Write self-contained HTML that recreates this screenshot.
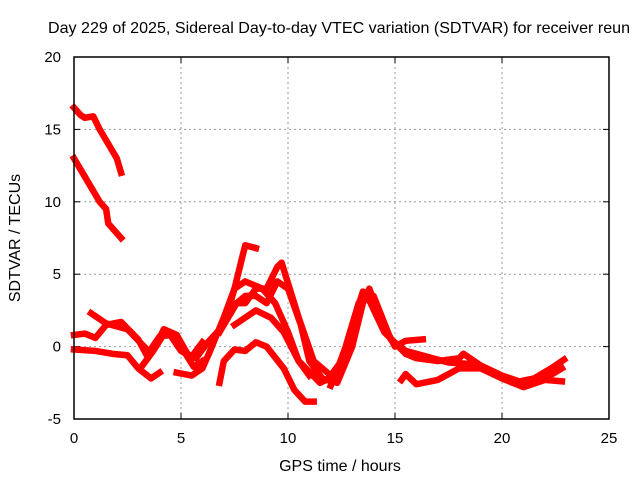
<!DOCTYPE html>
<html><head><meta charset="utf-8"><style>body{margin:0;background:#fff}svg{display:block;font-family:"Liberation Sans",sans-serif}</style></head>
<body>
<svg id="chart" width="640" height="480">
<rect width="640" height="480" fill="#fff"/>
<text x="339" y="33" font-size="16" text-anchor="middle" textLength="582" lengthAdjust="spacingAndGlyphs">Day 229 of 2025, Sidereal Day-to-day VTEC variation (SDTVAR) for receiver reun</text>
<g id="grid"></g><g id="ticks"></g><g id="series" fill="none" stroke="#ff0000" stroke-width="6.5" stroke-linejoin="round" stroke-linecap="square"></g>
<rect x="74" y="57" width="535" height="362" fill="none" stroke="#000" stroke-width="1.5"/>
<text x="340" y="471" font-size="16" text-anchor="middle">GPS time / hours</text>
<text transform="translate(20,238) rotate(-90)" font-size="16" text-anchor="middle">SDTVAR / TECUs</text>
</svg>
<script>
const xTicks=[0,5,10,15,20,25];
const yTicks=[-5,0,5,10,15,20];
const tracks=[
[[0,16.5],[0.3,16],[0.5,15.8],[0.9,15.9],[1.2,15],[1.6,14],[2.0,13],[2.2,12]],
[[0,13],[0.4,12],[0.8,11],[1.2,10],[1.5,9.5],[1.6,8.5],[2.2,7.5]],
[[0,0.8],[0.5,0.9],[1.0,0.6],[1.5,1.5],[2.2,1.7],[3.0,0.5],[3.4,-0.6],[4.0,0.7],[4.5,0.8],[5.0,-0.3],[5.5,-0.7],[6.0,0.3]],
[[0.8,2.3],[1.5,1.6],[2.5,1.2],[3.6,-0.5],[4,0.6],[4.2,1.2],[4.8,0.8],[5.3,-0.5],[5.7,-0.8],[6.2,0.2],[7,1.5],[7.5,4],[8,7],[8.5,6.8]],
[[0,-0.2],[1,-0.3],[1.8,-0.5],[2.5,-0.6],[3,-1.5],[3.6,-2.2],[4,-1.8]],
[[3.2,-1.3],[3.7,-0.3],[4.3,1.1],[5,0],[5.6,-1.4],[6,-1.0]],
[[4.8,-1.8],[5.5,-2],[6,-1.5],[6.3,-0.5],[7,2],[7.5,4],[8,4.5],[8.8,4],[9.4,3],[10,1],[10.5,-1],[11,-2]],
[[6.8,-2.5],[7,-1],[7.5,-0.2],[8,-0.3],[8.5,0.3],[9,0],[9.8,-1.5],[10.3,-3],[10.8,-3.8],[11.2,-3.8]],
[[6.8,1],[7.2,2],[7.6,3],[8,3],[8.5,4],[9,4],[9.5,5.5],[9.7,5.8],[10.5,2],[11.2,-1],[12,-2],[12.5,-1]],
[[7.2,2.5],[8,3.5],[8.5,3.5],[9,3],[9.5,4.5],[10,4],[10.6,1.5],[11,-1],[11.6,-2.2],[12.3,-2.5],[13,0],[13.5,3],[13.8,4],[14.3,2],[15,0],[15.5,0.4],[16.3,0.5]],
[[7.5,1.5],[8.5,2.5],[9.2,2],[9.8,1],[10.5,-1],[11.5,-2.5],[12.2,-2],[12.7,0],[13.3,3],[13.7,3.5],[14.5,1],[15.5,-0.5],[16,-0.8],[17,-1],[18,-0.8],[18.2,-0.5],[19,-1.3],[20,-2],[21,-2.5],[22,-2.2],[22.8,-1.5]],
[[15.3,-2.3],[15.5,-1.9],[16,-2.6],[17,-2.3],[18,-1.5],[19,-1.5],[20,-2.2],[21,-2.8],[22,-2.3],[22.8,-2.4]],
[[12,-2.7],[12.5,-1],[13,1.5],[13.5,3.8],[14,3.5],[14.8,0.5],[15.5,-0.3],[16.5,-0.7],[17.5,-1.1],[18.5,-1.2],[19.5,-1.8],[20.5,-2.5],[21.5,-2.2],[22.3,-1.5],[22.9,-0.9]]
];
const X=h=>74+h*(535/25), Y=v=>419-(v+5)*(362/25);
const NS="http://www.w3.org/2000/svg";
const grid=document.getElementById('grid'),ticks=document.getElementById('ticks'),ser=document.getElementById('series');
function mk(tag,at,par){const e=document.createElementNS(NS,tag);for(const k in at)e.setAttribute(k,at[k]);par.appendChild(e);return e;}
xTicks.forEach(t=>{const x=X(t);
 if(t>0&&t<25){const g=mk('line',{x1:x,x2:x,y1:57,y2:419,stroke:'#999','stroke-dasharray':'2,3'},grid);}
 mk('line',{x1:x,x2:x,y1:419,y2:413,stroke:'#000'},ticks);mk('line',{x1:x,x2:x,y1:57,y2:63,stroke:'#000'},ticks);
 const l=mk('text',{x:x,y:443,'font-size':15,'text-anchor':'middle'},ticks);l.textContent=t;
 });
yTicks.forEach(t=>{const y=Y(t);
 if(t>-5&&t<20){const g=mk('line',{x1:74,x2:609,y1:y,y2:y,stroke:'#999','stroke-dasharray':'2,3'},grid);}
 mk('line',{x1:74,x2:80,y1:y,y2:y,stroke:'#000'},ticks);mk('line',{x1:609,x2:603,y1:y,y2:y,stroke:'#000'},ticks);
 const l=mk('text',{x:61,y:y+5,'font-size':15,'text-anchor':'end'},ticks);l.textContent=t;
 });
tracks.forEach(tr=>{const p=mk('polyline',{points:tr.map(d=>X(d[0])+','+Y(d[1])).join(' ')},ser);
 
 });
</script>
</body></html>
